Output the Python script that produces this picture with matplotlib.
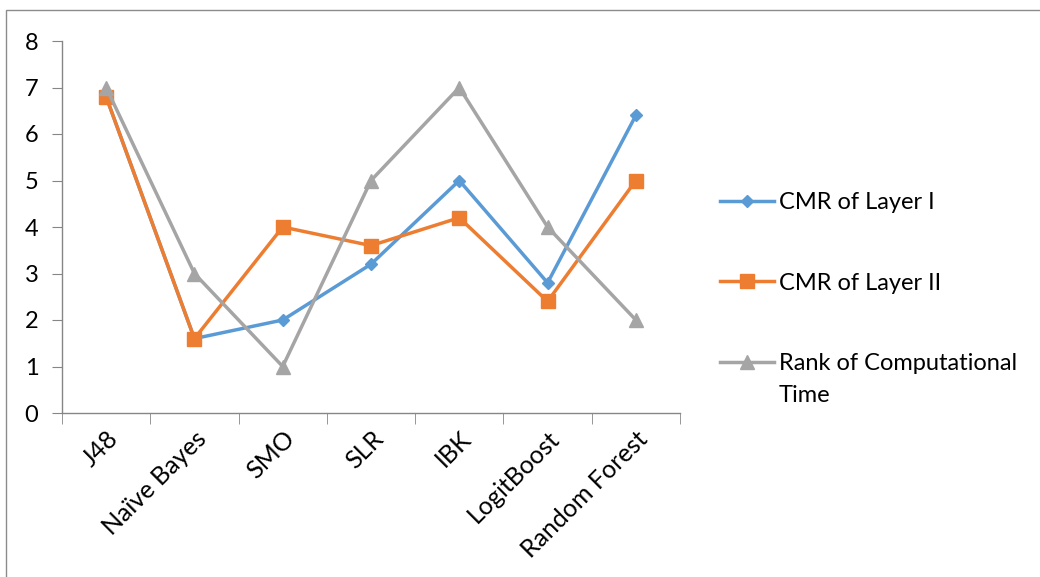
import matplotlib
matplotlib.use('Agg')
from matplotlib import pyplot as plt
from matplotlib.patches import Rectangle
from matplotlib.transforms import IdentityTransform


categories = ['J48', 'Naïve Bayes', 'SMO', 'SLR', 'IBK', 'LogitBoost', 'Random Forest']
cmr_layer1 = [6.8, 1.6, 2.0, 3.2, 5.0, 2.8, 6.4]
cmr_layer2 = [6.8, 1.6, 4.0, 3.6, 4.2, 2.4, 5.0]
rank_time = [7, 3, 1, 5, 7, 4, 2]
y_ticks = [0, 1, 2, 3, 4, 5, 6, 7, 8]

plt.rcParams['font.family'] = ['Lato', 'DejaVu Sans']
FS = 17
AXIS_COLOR = '#868686'

figure = plt.figure(figsize=(10.4, 5.77), dpi=100)
ax = figure.add_axes([62 / 1040, 1 - 413 / 577, (680 - 62) / 1040, (413 - 41) / 577])

x = list(range(len(categories)))
ax.plot(x, cmr_layer1, color='#5B9BD5', lw=2.5, marker='D', ms=6,
        label='CMR of Layer I')
ax.plot(x, cmr_layer2, color='#ED7D31', lw=2.5, marker='s', ms=10,
        label='CMR of Layer II')
ax.plot(x, rank_time, color='#A5A5A5', lw=2.5, marker='^', ms=10,
        label='Rank of Computational')

ax.set_xlim(-0.5, len(categories) - 0.5)
ax.set_ylim(0, 8)
ax.set_yticks(y_ticks)
ax.set_xticks(x)
ax.set_xticklabels(categories, rotation=45, ha='right', va='top',
                   rotation_mode='anchor', fontsize=18)
ax.set_xticks([i - 0.5 for i in range(len(categories) + 1)], minor=True)
ax.tick_params(axis='x', which='major', length=0, pad=10)
ax.tick_params(axis='x', which='minor', length=8, color=AXIS_COLOR, direction='out')
ax.tick_params(axis='y', length=7, color=AXIS_COLOR, labelsize=FS, pad=10)

for side in ['top', 'right']:
    ax.spines[side].set_visible(False)
for side in ['left', 'bottom']:
    ax.spines[side].set_color(AXIS_COLOR)
    ax.spines[side].set_linewidth(1)

leg = figure.legend(loc='center left', bbox_to_anchor=(720 / 1040, 1 - 283 / 577),
                    frameon=False, fontsize=FS, handlelength=2.3, handletextpad=0.2,
                    labelspacing=2.52, borderpad=0, borderaxespad=0)

# second line of the last legend entry, placed under its first line
figure.canvas.draw()
tb = leg.get_texts()[2].get_window_extent()
figure.text(tb.x0, tb.y0 - 32, 'Time', fontsize=FS, va='bottom', ha='left',
            transform=IdentityTransform())

# outer chart border
figure.patches.append(Rectangle((6 / 1040, -0.1), 1.2, 1 - 10 / 577 + 0.1,
                                transform=figure.transFigure, fill=False,
                                edgecolor='#8c8c8c', lw=1))

figure.savefig('out.png', dpi=100)
